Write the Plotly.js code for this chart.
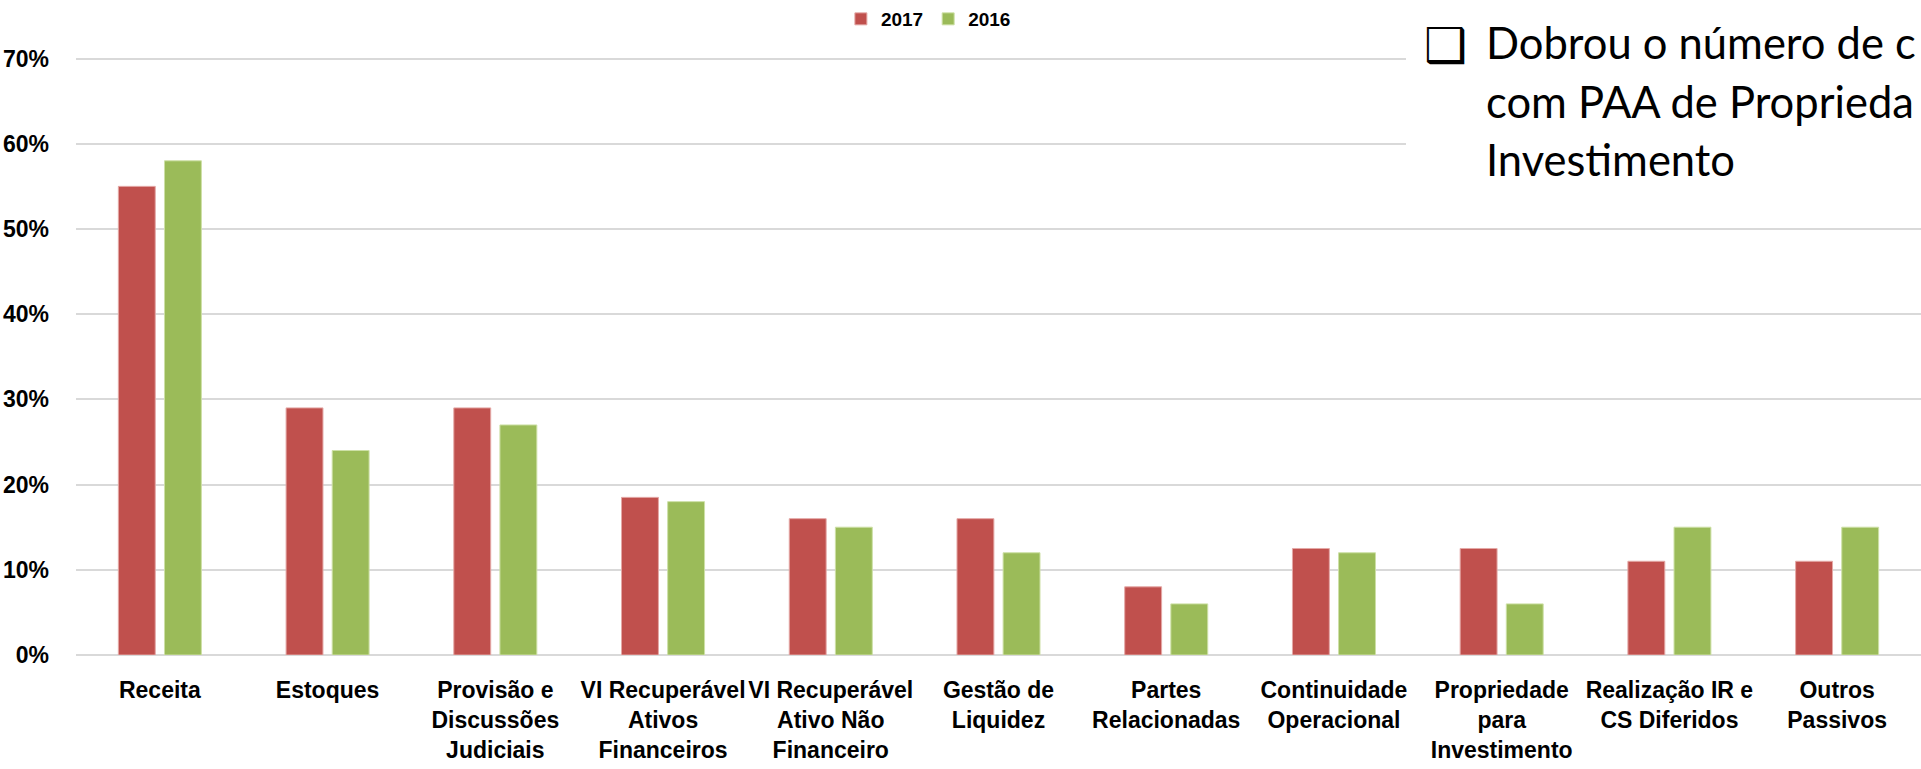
<!DOCTYPE html>
<html>
<head>
<meta charset="utf-8">
<script src="https://cdn.plot.ly/plotly-3.0.1.min.js"></script>
<style>
html,body{margin:0;padding:0;background:#fff;}
#chart{width:1921px;height:769px;}
</style>
</head>
<body>
<div id="chart"></div>
<script>
// ---- data ----
const categories = [
  "Receita",
  "Estoques",
  "Provisão e<br>Discussões<br>Judiciais",
  "VI Recuperável<br>Ativos<br>Financeiros",
  "VI Recuperável<br>Ativo Não<br>Financeiro",
  "Gestão de<br>Liquidez",
  "Partes<br>Relacionadas",
  "Continuidade<br>Operacional",
  "Propriedade<br>para<br>Investimento",
  "Realização IR e<br>CS Diferidos",
  "Outros<br>Passivos"
];
const values2017 = [55, 29, 29, 18.5, 16, 16, 8, 12.5, 12.5, 11, 11];
const values2016 = [58, 24, 27, 18, 15, 12, 6, 12, 6, 15, 15];
const seriesNames = ["2017", "2016"];
const yTickVals = [0, 10, 20, 30, 40, 50, 60, 70];
const yTickText = ["0%", "10%", "20%", "30%", "40%", "50%", "60%", "70%"];
const noteLines = [
  "Dobrou o número de c",
  "com PAA de Proprieda",
  "Investimento"
];

const labelFont = "'Liberation Sans', Arial, sans-serif";

const traces = [
  {
    type: "bar", name: seriesNames[0], x: categories, y: values2017,
    marker: {color: "#C0504D", line: {color: "#E4A8A6", width: 1}},
    hoverinfo: "x+y"
  },
  {
    type: "bar", name: seriesNames[1], x: categories, y: values2016,
    marker: {color: "#9BBB59", line: {color: "#CDE0A6", width: 1}},
    hoverinfo: "x+y"
  }
];

const annotations = [
  {
    xref: "paper", yref: "paper", x: (1422 - 76) / 1845, y: 1 + (55 - 44) / 600,
    xanchor: "left", yanchor: "middle", showarrow: false,
    text: "❑", font: {family: "DejaVu Sans", size: 48, color: "#000"}
  }
];
const noteY = [41, 100, 158];
noteLines.forEach((t, i) => {
  annotations.push({
    xref: "paper", yref: "paper", x: (1484 - 76) / 1845, y: 1 + (55 - noteY[i]) / 600,
    xanchor: "left", yanchor: "middle", showarrow: false,
    text: t, font: {family: "Lato, 'Open Sans', sans-serif", size: 43.5, color: "#000"}
  });
});

const layout = {
  width: 1921, height: 769,
  margin: {l: 76, r: 0, t: 55, b: 114, pad: 0},
  paper_bgcolor: "#fff", plot_bgcolor: "#fff",
  barmode: "group", bargap: 0.45, bargroupgap: 0.2,
  showlegend: true,
  legend: {
    orientation: "h", xanchor: "center", yanchor: "middle",
    x: 0.462, y: 1 + (55 - 18) / 600,
    font: {family: labelFont, size: 19, color: "#000", weight: "bold"},
    itemwidth: 30, tracegroupgap: 0
  },
  xaxis: {
    type: "category", showgrid: false, zeroline: false, showline: false,
    ticks: "", tickangle: 0, ticklabelstandoff: 19,
    tickfont: {family: labelFont, size: 23, color: "#000", weight: "bold"},
    automargin: false
  },
  yaxis: {
    range: [0, 70.3], tickvals: yTickVals, ticktext: yTickText,
    showgrid: true, gridcolor: "#D9D9D9", gridwidth: 2,
    zeroline: true, zerolinecolor: "#D9D9D9", zerolinewidth: 2,
    showline: false, ticks: "", ticklabelstandoff: 26,
    tickfont: {family: labelFont, size: 23, color: "#000", weight: "bold"},
    automargin: false
  },
  shapes: [
    {
      type: "rect", xref: "paper", yref: "paper", layer: "above",
      x0: (1406 - 76) / 1845, x1: 1.01, y0: (655 - 200) / 600, y1: 1.15,
      fillcolor: "#fff", line: {width: 0}
    }
  ],
  annotations: annotations
};

Plotly.newPlot("chart", traces, layout, {displayModeBar: false, responsive: false});
</script>
</body>
</html>
